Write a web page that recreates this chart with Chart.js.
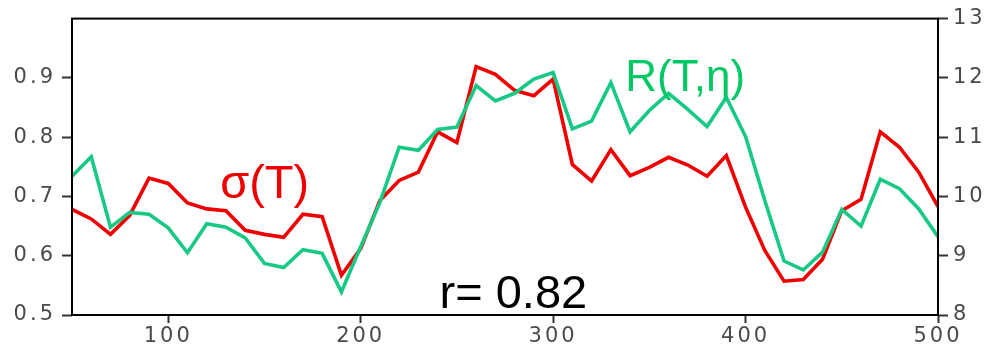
<!DOCTYPE html>
<html>
<head>
<meta charset="utf-8">
<script src="https://cdn.jsdelivr.net/npm/chart.js@4/dist/chart.umd.min.js"></script>
<style>
  html, body { margin: 0; padding: 0; background: #fff; }
  #wrap { width: 990px; height: 345px; }
</style>
</head>
<body>
<div id="wrap"><canvas id="c" width="990" height="345"></canvas></div>
<script>
// ---- data ----
const temps = [50, 60, 70, 80, 90, 100, 110, 120, 130, 140, 150, 160, 170, 180, 190, 200,
  210, 220, 230, 240, 250, 260, 270, 280, 290, 300, 310, 320, 330, 340, 350, 360, 370, 380,
  390, 400, 410, 420, 430, 440, 450, 460, 470, 480, 490, 500];

const sigmaT = [0.678, 0.662, 0.636, 0.668, 0.731, 0.722, 0.689, 0.679, 0.676, 0.643, 0.636,
  0.631, 0.670, 0.666, 0.567, 0.612, 0.693, 0.727, 0.741, 0.809, 0.791, 0.919, 0.906, 0.879,
  0.870, 0.898, 0.754, 0.726, 0.779, 0.735, 0.749, 0.766, 0.753, 0.734, 0.769, 0.682, 0.609,
  0.557, 0.560, 0.594, 0.676, 0.695, 0.809, 0.783, 0.741, 0.683];

const rTeta = [10.34, 10.67, 9.48, 9.73, 9.70, 9.47, 9.05, 9.54, 9.48, 9.30, 8.87, 8.80, 9.10,
  9.04, 8.39, 9.15, 9.90, 10.83, 10.78, 11.13, 11.17, 11.87, 11.61, 11.74, 11.98, 12.09, 11.14,
  11.27, 11.92, 11.09, 11.45, 11.74, 11.47, 11.18, 11.67, 11.01, 9.93, 8.91, 8.76, 9.06, 9.78,
  9.50, 10.29, 10.13, 9.79, 9.32];

const xTicks = [100, 200, 300, 400, 500];
const yLeftTicks = [0.5, 0.6, 0.7, 0.8, 0.9];
const yRightTicks = [8, 9, 10, 11, 12, 13];

const labelSigma = 'σ(T)';
const labelR = 'R(T,η)';
const labelCorr = 'r= 0.82';

// annotation anchors in data units
const annSigma = { x: 127, y: 0.697 };
const annR = { x: 337.5, y: 0.878 };
const annCorr = { x: 241, y: 0.512 };

// ---- chart ----
const tickFont = { family: 'DejaVu Sans', size: 21 };
const tickColor = '#4a4a4a';

const spacingPlugin = {
  id: 'spacing',
  beforeDraw(chart) { chart.ctx.letterSpacing = '3px'; }
};

const boxPlugin = {
  id: 'box',
  afterDraw(chart) {
    const ctx = chart.ctx;
    const a = chart.chartArea;
    ctx.save();
    ctx.letterSpacing = '0px';
    ctx.strokeStyle = '#000';
    ctx.lineWidth = 2;
    ctx.strokeRect(a.left, a.top, a.right - a.left, a.bottom - a.top);

    const xs = chart.scales.x, ys = chart.scales.y;
    ctx.textBaseline = 'alphabetic';
    ctx.textAlign = 'left';
    ctx.font = '47px "Liberation Sans", Arial, sans-serif';
    ctx.fillStyle = '#ee0000';
    ctx.fillText(labelSigma, xs.getPixelForValue(annSigma.x), ys.getPixelForValue(annSigma.y));
    ctx.font = '44px "Liberation Sans", Arial, sans-serif';
    ctx.fillStyle = '#00c864';
    ctx.fillText(labelR, xs.getPixelForValue(annR.x), ys.getPixelForValue(annR.y));
    ctx.font = '47px "Liberation Sans", Arial, sans-serif';
    ctx.fillStyle = '#000';
    ctx.fillText(labelCorr, xs.getPixelForValue(annCorr.x), ys.getPixelForValue(annCorr.y));
    ctx.restore();
  }
};

new Chart(document.getElementById('c'), {
  type: 'line',
  data: {
    datasets: [
      {
        label: labelR,
        data: temps.map((t, i) => ({ x: t, y: rTeta[i] })),
        yAxisID: 'y1',
        borderColor: '#17c985',
        borderWidth: 3.6,
        pointRadius: 0,
        tension: 0,
        order: 0
      },
      {
        label: labelSigma,
        data: temps.map((t, i) => ({ x: t, y: sigmaT[i] })),
        yAxisID: 'y',
        borderColor: '#f00000',
        borderWidth: 3.6,
        pointRadius: 0,
        tension: 0,
        order: 1
      }
    ]
  },
  options: {
    responsive: false,
    animation: false,
    devicePixelRatio: 1,
    layout: { padding: { top: 17, left: 0, right: 0, bottom: 0 } },
    plugins: { legend: { display: false }, tooltip: { enabled: false } },
    scales: {
      x: {
        type: 'linear',
        min: 50, max: 500,
        afterBuildTicks: s => { s.ticks = xTicks.map(v => ({ value: v })); },
        afterFit: s => { s.height = 30; },
        grid: { drawOnChartArea: false, drawTicks: true, tickLength: 8, tickWidth: 2, color: '#333' },
        border: { display: false },
        ticks: { font: tickFont, color: tickColor, padding: 1, maxRotation: 0, autoSkip: false }
      },
      y: {
        position: 'left',
        min: 0.5, max: 1.0,
        afterBuildTicks: s => { s.ticks = yLeftTicks.map(v => ({ value: v })); },
        afterFit: s => { s.width = 72; },
        grid: { drawOnChartArea: false, drawTicks: true, tickLength: 10, tickWidth: 2, color: '#333' },
        border: { display: false },
        ticks: {
          font: tickFont, color: tickColor, padding: 6, autoSkip: false,
          callback: v => v.toFixed(1)
        }
      },
      y1: {
        position: 'right',
        min: 8, max: 13,
        afterBuildTicks: s => { s.ticks = yRightTicks.map(v => ({ value: v })); },
        afterFit: s => { s.width = 52; },
        grid: { drawOnChartArea: false, drawTicks: true, tickLength: 10, tickWidth: 2, color: '#333' },
        border: { display: false },
        ticks: { font: tickFont, color: tickColor, padding: 5, autoSkip: false }
      }
    }
  },
  plugins: [spacingPlugin, boxPlugin]
});
</script>
</body>
</html>
